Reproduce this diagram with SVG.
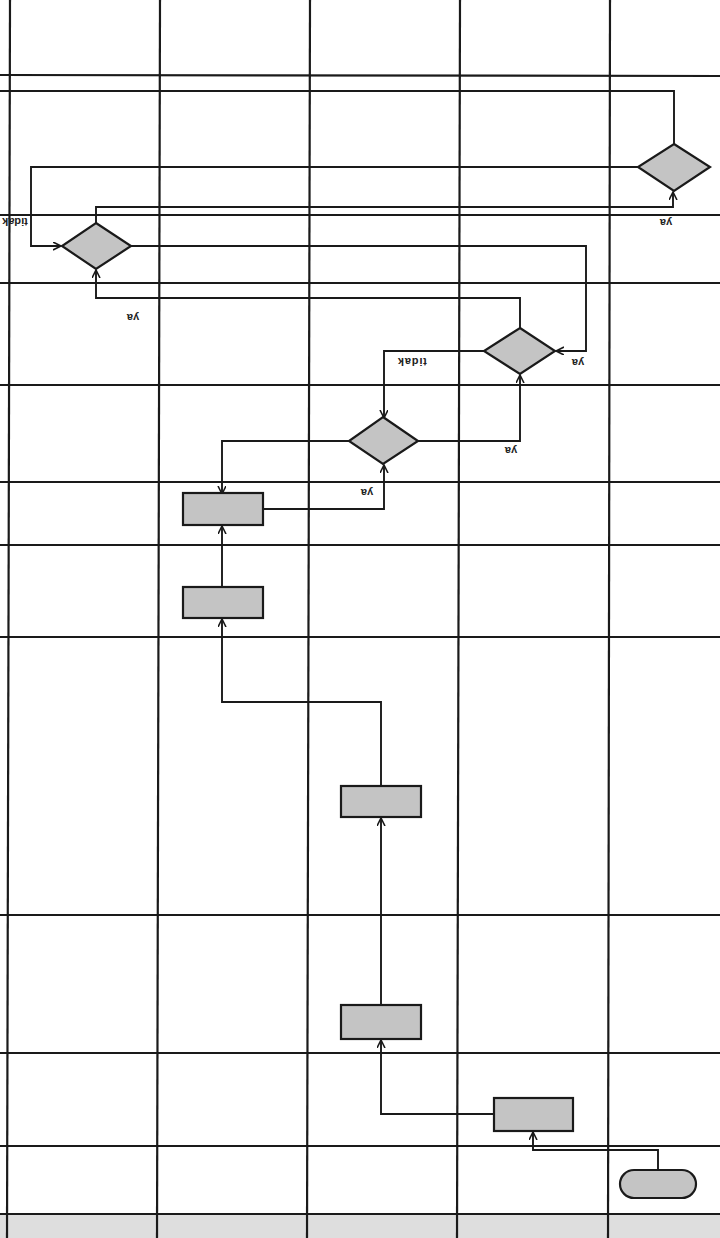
<svg xmlns="http://www.w3.org/2000/svg" width="720" height="1238" viewBox="0 0 720 1238">
<style>
.lane{stroke:#1a1a1a;stroke-width:2.2;fill:none}
.conn{stroke:#1a1a1a;stroke-width:1.9;fill:none;marker-end:url(#arr)}
.plain{stroke:#1a1a1a;stroke-width:1.9;fill:none}
.node{fill:#c4c4c4;stroke:#1a1a1a;stroke-width:2.2}
.lbl{font-family:"Liberation Sans",Arial,sans-serif;font-size:11px;font-weight:bold;fill:#222;text-anchor:middle}
</style>
<defs>
<marker id="arr" markerUnits="userSpaceOnUse" markerWidth="10" markerHeight="10" refX="8" refY="4" orient="auto">
<path d="M0,0 L8,4 L0,8" fill="none" stroke="#1a1a1a" stroke-width="1.6"/>
</marker>
</defs>
<rect x="0" y="0" width="720" height="1238" fill="#ffffff"/>
<rect x="0" y="1214" width="720" height="24" fill="#dedede"/>
<g id="lanes">
<line class="lane" x1="0" y1="75" x2="720" y2="76"/>
<line class="lane" x1="0" y1="215" x2="720" y2="215"/>
<line class="lane" x1="0" y1="283" x2="720" y2="283"/>
<line class="lane" x1="0" y1="385" x2="720" y2="385"/>
<line class="lane" x1="0" y1="482" x2="720" y2="482"/>
<line class="lane" x1="0" y1="545" x2="720" y2="545"/>
<line class="lane" x1="0" y1="637" x2="720" y2="637"/>
<line class="lane" x1="0" y1="915" x2="720" y2="915"/>
<line class="lane" x1="0" y1="1053" x2="720" y2="1053"/>
<line class="lane" x1="0" y1="1146" x2="720" y2="1146"/>
<line class="lane" x1="0" y1="1214" x2="720" y2="1214"/>
<line class="lane" x1="10" y1="0" x2="7" y2="1238"/>
<line class="lane" x1="160" y1="0" x2="157" y2="1238"/>
<line class="lane" x1="310" y1="0" x2="307" y2="1238"/>
<line class="lane" x1="460" y1="0" x2="457" y2="1238"/>
<line class="lane" x1="610" y1="0" x2="608" y2="1238"/>
</g>
<g id="connectors">
<path class="conn" d="M658,1170 V1150 H533 V1132"/>
<path class="conn" d="M494,1114 H381 V1040"/>
<path class="conn" d="M381,1005 V818"/>
<path class="conn" d="M381,786 V702 H222 V619"/>
<path class="conn" d="M222,587 V526"/>
<path class="conn" d="M263,509 H384 V465"/>
<path class="conn" d="M349,441 H222 V494"/>
<path class="conn" d="M418,441 H520 V375"/>
<path class="conn" d="M484,351 H384 V418"/>
<path class="conn" d="M520,328 V298 H96 V270"/>
<path class="conn" d="M131,246 H586 V351 H556"/>
<path class="conn" d="M96,223 V207 H673 V192"/>
<path class="conn" d="M638,167 H31 V246 H61"/>
<path class="plain" d="M674,144 V91 H0"/>
</g>
<g id="labels">
<text class="lbl" transform="rotate(180 666 223)" x="666" y="227">ya</text>
<text class="lbl" transform="rotate(180 133 318)" x="133" y="322">ya</text>
<text class="lbl" transform="rotate(180 578 363)" x="578" y="367">ya</text>
<text class="lbl" transform="rotate(180 412 362)" x="412" y="366" letter-spacing="0.8">tidak</text>
<text class="lbl" transform="rotate(180 511 451)" x="511" y="455">ya</text>
<text class="lbl" transform="rotate(180 367 493)" x="367" y="497">ya</text>
<text class="lbl" transform="rotate(180 15 222)" x="15" y="226">tidak</text>
</g>
<g id="start"><rect class="node" x="620" y="1170" width="76" height="28" rx="14"/></g>
<g id="boxA"><rect class="node" x="494" y="1098" width="79" height="33"/></g>
<g id="boxB"><rect class="node" x="341" y="1005" width="80" height="34"/></g>
<g id="boxC"><rect class="node" x="341" y="786" width="80" height="31"/></g>
<g id="boxD"><rect class="node" x="183" y="587" width="80" height="31"/></g>
<g id="boxE"><rect class="node" x="183" y="493" width="80" height="32"/></g>
<g id="dec1"><polygon class="node" points="383,417 418,441 383,464 349,441"/></g>
<g id="dec2"><polygon class="node" points="520,328 555,351 520,374 484,351"/></g>
<g id="dec3"><polygon class="node" points="96,223 131,246 96,269 62,246"/></g>
<g id="dec4"><polygon class="node" points="674,144 710,167 674,191 638,167"/></g>
</svg>
